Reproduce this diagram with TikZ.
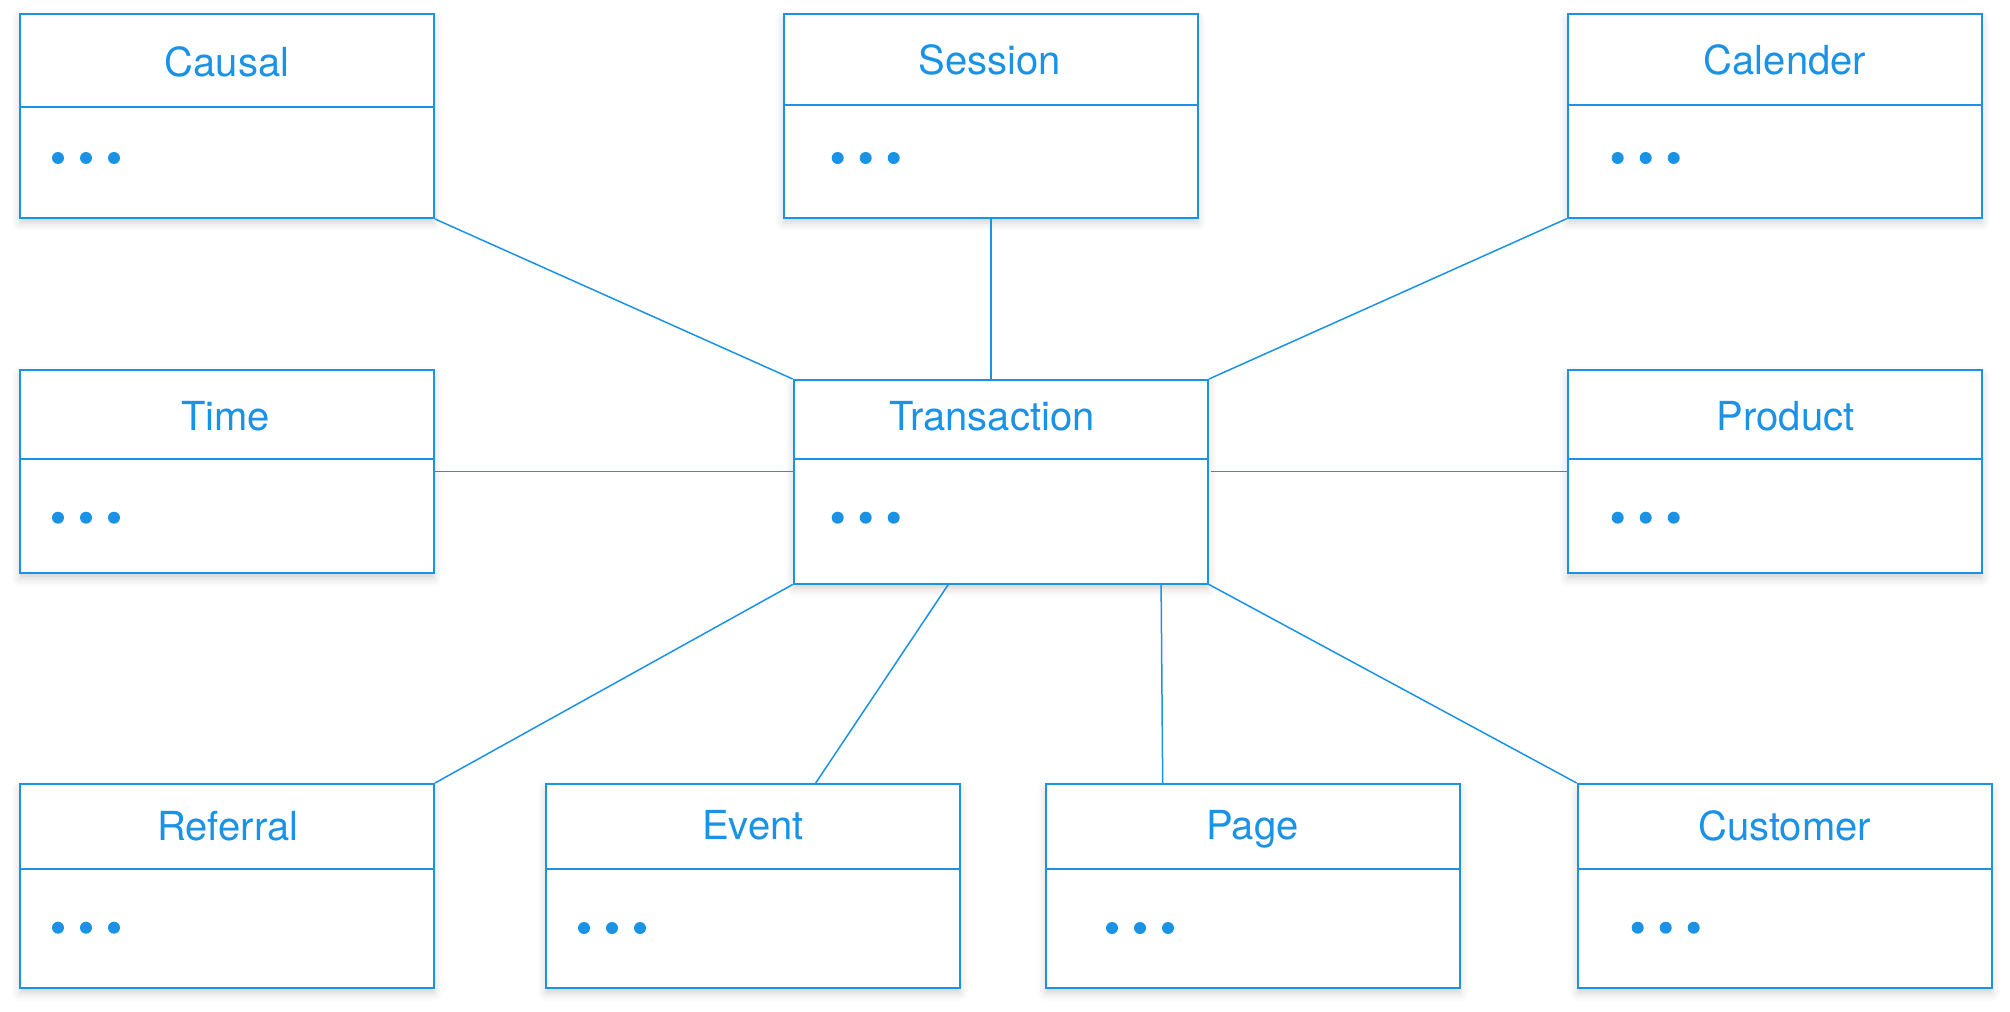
\documentclass[tikz,border=0pt]{standalone}
\usepackage{fontspec}
\setmainfont{TeX Gyre Heros}
\usetikzlibrary{shadows.blur}
\definecolor{erblue}{HTML}{1A92E6}
\begin{document}
\begin{tikzpicture}[x=0.5pt,y=-0.5pt,
  entity/.style={draw=erblue, line width=1pt, fill=white, minimum width=207.15pt,
    inner sep=0pt, anchor=north west,
    blur shadow={shadow xshift=0pt, shadow yshift=-2.5pt, shadow blur radius=4pt, shadow opacity=18}},
  title/.style={anchor=base, text=erblue, font=\fontsize{20pt}{24pt}\selectfont, inner sep=0pt},
  divider/.style={draw=erblue, line width=1pt},
  link/.style={draw=erblue, line width=0.75pt}]
\useasboundingbox (0,0) rectangle (2010,1012);
\foreach \n/\xl/\yt/\h/\dy/\bx/\by/\ttl/\dx/\ddy in {
  causal/18.7/13/102/106.7/227/76.7/Causal/58/158,
  session/782.7/13.3/101.7/105/990/74/Session/837.7/158,
  calender/1566.7/13.3/101.7/105/1785/74/Calender/1617.7/158,
  time/18.7/369/101.65/458.7/225.5/430/Time/58/517.7,
  trans/792.7/379/101.75/458.7/992/430/Transaction/837.7/517.7,
  product/1566.7/369/101.65/458.7/1785.5/430/Product/1617.7/517.7,
  referral/18.7/783/102/868.7/227.7/840.7/Referral/58/927.7,
  event/544.7/783/102/869/753/839.3/Event/584/928,
  page/1044.7/783/102/869/1252.5/839.3/Page/1112/928,
  customer/1576.7/783/102/868.7/1784.5/840.7/Customer/1637.7/927.7}{
  \node[entity, minimum height=\h pt] (\n) at (\xl,\yt) {};
  \draw[divider] (\n.west |- 0,\dy) -- (\n.east |- 0,\dy);
  \node[title] (\n-title) at (\bx,\by) {\ttl};
  \foreach \k in {0,1,2}
    \fill[erblue] (\dx+28*\k,\ddy) circle (3pt);
}
\draw[link] (causal.south east) -- (trans.north west);
\draw[link] (session.south) -- (session.south |- trans.north);
\draw[link] (calender.south west) -- (trans.north east);
\draw[link] (time.east) -- (time.east -| trans.west);
\draw[link] (product.west) -- ([xshift=1pt]product.west -| trans.east);
\draw[link] (referral.north east) -- (trans.south west);
\draw[link] ([xshift=135.5pt]event.north west) -- ([xshift=77.8pt]trans.south west);
\draw[link] ([xshift=59pt]page.north west) -- ([xshift=184.2pt]trans.south west);
\draw[link] (customer.north west) -- (trans.south east);
\end{tikzpicture}
\end{document}
